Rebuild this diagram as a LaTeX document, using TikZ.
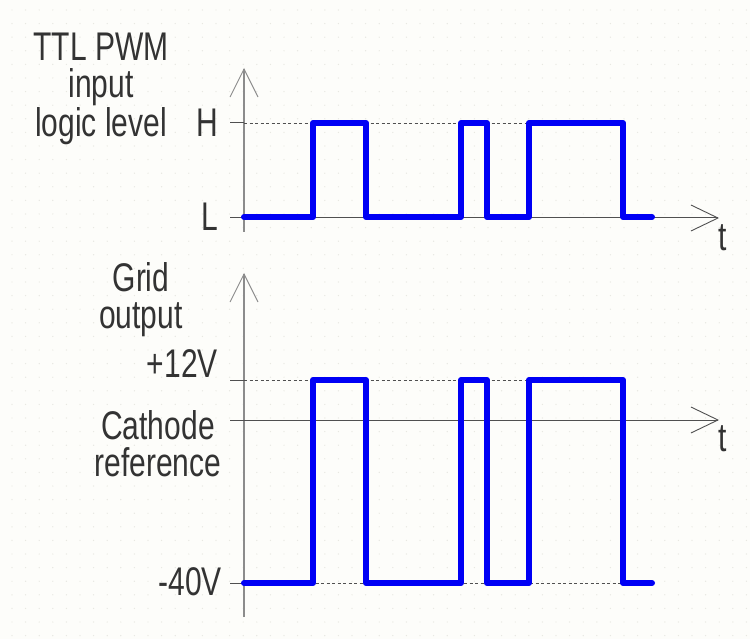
\documentclass[tikz,border=0pt]{standalone}
\usepackage{fontspec}
\setmainfont{Liberation Sans}
\usetikzlibrary{arrows.meta}
\newcommand{\nx}[1]{\scalebox{0.75}[1]{#1}}
\definecolor{bgc}{HTML}{FDFDFA}
\definecolor{dotc}{HTML}{E8E8E2}
\definecolor{labc}{HTML}{333333}
\definecolor{vaxc}{HTML}{8C8C8C}
\definecolor{haxc}{HTML}{505050}
\definecolor{sigc}{RGB}{0,0,245}
\begin{document}
\begin{tikzpicture}[x=1pt,y=-1pt,
  lab/.style={inner sep=0pt, text=labc, font=\fontsize{40}{37}\selectfont, align=center},
  vaxis/.style={draw=vaxc, line width=1.3pt, -{Straight Barb[length=28pt,width=28pt,line width=0.9pt]}},
  haxis/.style={draw=haxc, line width=1pt, -{Straight Barb[length=27pt,width=26pt,line width=0.9pt]}},
  tickl/.style={draw=haxc, line width=1pt},
  lvl/.style={draw=haxc, line width=0.8pt, dash pattern=on 3pt off 2.5pt},
  sig/.style={draw=sigc, line width=6pt, line join=round, line cap=round}]
\useasboundingbox (0,0) rectangle (750,639);
\fill[bgc] (0,0) rectangle (750,639);
\foreach \i in {0,...,54}{\foreach \j in {0,...,46}{\fill[dotc] (12+\i*13.6,10+\j*13.6) circle (0.7);}}
% ---------- upper chart ----------
\coordinate (u0) at (244,232);
\coordinate (utop) at (244,68);
\coordinate (uh0) at (230,123);
\coordinate (uh1) at (244,123);
\coordinate (uh2) at (623,123);
\coordinate (ul0) at (230,218);
\coordinate (uend) at (719,218);
\draw[vaxis] (u0) -- (utop);
\draw[tickl] (uh0) -- (uh1);
\draw[lvl] (uh1) -- (uh2);
\draw[haxis] (ul0) -- (uend);
\draw[sig] (244,217) -- (313,217) -- (313,123) -- (366,123) -- (366,217) -- (461,217) -- (461,123) -- (487,123) -- (487,217) -- (529,217) -- (529,123) -- (623,123) -- (623,217) -- (652,217);
\node[lab, anchor=north] (ttl) at (101,33) {\nx{TTL PWM}\\\nx{input}\\\nx{logic level}};
\node[lab, anchor=east] (hlab) at (218,123) {\nx{H}};
\node[lab, anchor=east] (llab) at (218,217) {\nx{L}};
\node[lab] (t1) at (723,238) {\nx{t}};
% ---------- lower chart ----------
\coordinate (d0) at (244,617);
\coordinate (dtop) at (244,273);
\coordinate (dp0) at (230,380);
\coordinate (dp1) at (244,380);
\coordinate (dp2) at (623,380);
\coordinate (dn0) at (230,583);
\coordinate (dn1) at (244,583);
\coordinate (dn2) at (652,583);
\coordinate (dc0) at (230,420);
\coordinate (dend) at (719,420);
\draw[vaxis] (d0) -- (dtop);
\draw[tickl] (dp0) -- (dp1);
\draw[lvl] (dp1) -- (dp2);
\draw[tickl] (dn0) -- (dn1);
\draw[lvl] (dn1) -- (dn2);
\draw[haxis] (dc0) -- (dend);
\draw[sig] (244,583) -- (313,583) -- (313,380) -- (366,380) -- (366,583) -- (461,583) -- (461,380) -- (487,380) -- (487,583) -- (529,583) -- (529,380) -- (623,380) -- (623,583) -- (652,583);
\node[lab, anchor=north] (grid) at (141,262) {\nx{Grid}\\\nx{output}};
\node[lab, anchor=east] (p12) at (218,364) {\nx{+12V}};
\node[lab, anchor=north] (cath) at (158,410) {\nx{Cathode}\\\nx{reference}};
\node[lab, anchor=east] (m40) at (222,582) {\nx{-40V}};
\node[lab] (t2) at (723,439) {\nx{t}};
\end{tikzpicture}
\end{document}
